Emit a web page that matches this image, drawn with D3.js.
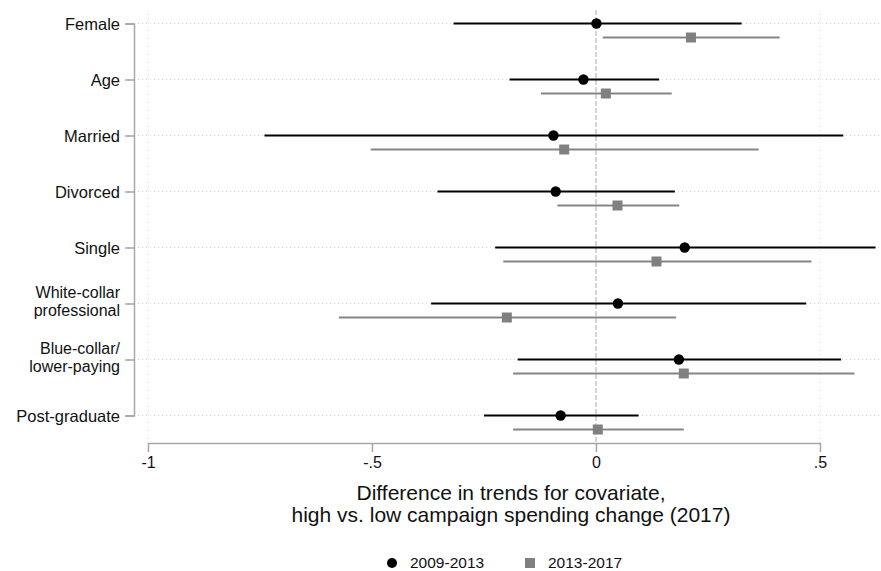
<!DOCTYPE html>
<html>
<head>
<meta charset="utf-8">
<script src="https://cdn.jsdelivr.net/npm/d3@7"></script>
<style>
  body { margin: 0; background: #fff; }
  svg { font-family: "Liberation Sans", Arial, sans-serif; }
</style>
</head>
<body>
<div id="chart"></div>
<script>
// Covariates (rows)
var categories = ["Female", "Age", "Married", "Divorced", "Single",
                  "White-collar\nprofessional", "Blue-collar/\nlower-paying", "Post-graduate"];

// 2009-2013 estimates and CI
var est1 = [0.001, -0.028, -0.095, -0.090, 0.198, 0.049, 0.185, -0.079];
var lo1  = [-0.318, -0.193, -0.740, -0.354, -0.225, -0.368, -0.175, -0.250];
var hi1  = [0.325, 0.141, 0.552, 0.176, 0.624, 0.469, 0.547, 0.095];

// 2013-2017 estimates and CI
var est2 = [0.212, 0.022, -0.071, 0.048, 0.135, -0.199, 0.196, 0.004];
var lo2  = [0.015, -0.123, -0.503, -0.086, -0.207, -0.574, -0.185, -0.185];
var hi2  = [0.410, 0.169, 0.363, 0.186, 0.481, 0.179, 0.577, 0.196];

var xTicks = [-1, -0.5, 0, 0.5];
var xTickLabels = ["-1", "-.5", "0", ".5"];
var seriesNames = ["2009-2013", "2013-2017"];

var width = 881, height = 571;

var svg = d3.select("#chart").append("svg")
    .attr("width", width)
    .attr("height", height);

var x = d3.scaleLinear().domain([-1, 0.5]).range([148, 820]);
var y = d3.scalePoint().domain(categories).range([23.5, 415.5]);
var offset = 14;

// gridlines
svg.append("g").selectAll("line")
    .data(categories)
    .enter().append("line")
    .attr("x1", 138).attr("x2", width)
    .attr("y1", function(d) { return y(d); })
    .attr("y2", function(d) { return y(d); })
    .attr("stroke", "#d4d4d4")
    .attr("stroke-width", 1)
    .attr("stroke-dasharray", "1,3");

svg.append("g").selectAll("line")
    .data([-1, 0.5])
    .enter().append("line")
    .attr("x1", function(d) { return x(d); })
    .attr("x2", function(d) { return x(d); })
    .attr("y1", 10).attr("y2", 443)
    .attr("stroke", "#d4d4d4")
    .attr("stroke-width", 1)
    .attr("stroke-dasharray", "1,3");

// zero reference line
svg.append("line")
    .attr("x1", x(0)).attr("x2", x(0))
    .attr("y1", 10).attr("y2", 443)
    .attr("stroke", "#b8b8b8")
    .attr("stroke-width", 1.2)
    .attr("stroke-dasharray", "5,2");

// y axis
var yAxis = svg.append("g")
    .attr("transform", "translate(134,0)")
    .call(d3.axisLeft(y).tickSize(9).tickPadding(5));
yAxis.select(".domain").attr("stroke", "#a6a6a6").attr("stroke-width", 1.5);
yAxis.selectAll(".tick line").attr("stroke", "#a6a6a6").attr("stroke-width", 1.5);
yAxis.selectAll(".tick text")
    .attr("font-size", 16.5)
    .attr("fill", "#111")
    .attr("dy", null)
    .each(function(d) {
        var parts = d.split("\n");
        var t = d3.select(this).text(null);
        if (parts.length === 1) {
            t.append("tspan").attr("x", -14).attr("y", 6).text(parts[0]);
        } else {
            t.attr("font-size", 16);
            t.append("tspan").attr("x", -14).attr("y", -6.2).text(parts[0]);
            t.append("tspan").attr("x", -14).attr("y", 11.8).text(parts[1]);
        }
    });

// x axis
var xAxis = svg.append("g")
    .attr("transform", "translate(0,443)")
    .call(d3.axisBottom(x).tickValues(xTicks)
        .tickFormat(function(d, i) { return xTickLabels[i]; })
        .tickSize(9).tickPadding(4).tickSizeOuter(0));
xAxis.select(".domain").attr("stroke", "#a6a6a6").attr("stroke-width", 1.5);
xAxis.selectAll(".tick line").attr("stroke", "#a6a6a6").attr("stroke-width", 1.5);
xAxis.selectAll(".tick text")
    .attr("font-size", 16)
    .attr("fill", "#111")
    .attr("dy", null)
    .attr("y", 25);

// axis title
var title = svg.append("text")
    .attr("text-anchor", "middle")
    .attr("font-size", 21)
    .attr("fill", "#111");
title.append("tspan").attr("x", 511).attr("y", 500).text("Difference in trends for covariate,");
title.append("tspan").attr("x", 511).attr("y", 522).text("high vs. low campaign spending change (2017)");

// CI lines
var idx = d3.range(categories.length);

svg.append("g").selectAll("line")
    .data(idx)
    .enter().append("line")
    .attr("x1", function(i) { return x(lo2[i]); })
    .attr("x2", function(i) { return x(hi2[i]); })
    .attr("y1", function(i) { return y(categories[i]) + offset; })
    .attr("y2", function(i) { return y(categories[i]) + offset; })
    .attr("stroke", "#858585")
    .attr("stroke-width", 2);

svg.append("g").selectAll("line")
    .data(idx)
    .enter().append("line")
    .attr("x1", function(i) { return x(lo1[i]); })
    .attr("x2", function(i) { return x(hi1[i]); })
    .attr("y1", function(i) { return y(categories[i]); })
    .attr("y2", function(i) { return y(categories[i]); })
    .attr("stroke", "#000")
    .attr("stroke-width", 2);

// point estimates
svg.append("g").selectAll("rect")
    .data(idx)
    .enter().append("rect")
    .attr("x", function(i) { return x(est2[i]) - 5; })
    .attr("y", function(i) { return y(categories[i]) + offset - 5; })
    .attr("width", 10).attr("height", 10)
    .attr("fill", "#808080");

svg.append("g").selectAll("circle")
    .data(idx)
    .enter().append("circle")
    .attr("cx", function(i) { return x(est1[i]); })
    .attr("cy", function(i) { return y(categories[i]); })
    .attr("r", 5.2)
    .attr("fill", "#000");

// legend
var legend = svg.append("g").attr("font-size", 15.5).attr("fill", "#111");
legend.append("circle").attr("cx", 392).attr("cy", 563).attr("r", 5).attr("fill", "#000");
legend.append("text").attr("x", 410).attr("y", 567.5).text(seriesNames[0]);
legend.append("rect").attr("x", 525).attr("y", 558).attr("width", 10).attr("height", 10).attr("fill", "#808080");
legend.append("text").attr("x", 548).attr("y", 567.5).text(seriesNames[1]);
</script>
</body>
</html>
